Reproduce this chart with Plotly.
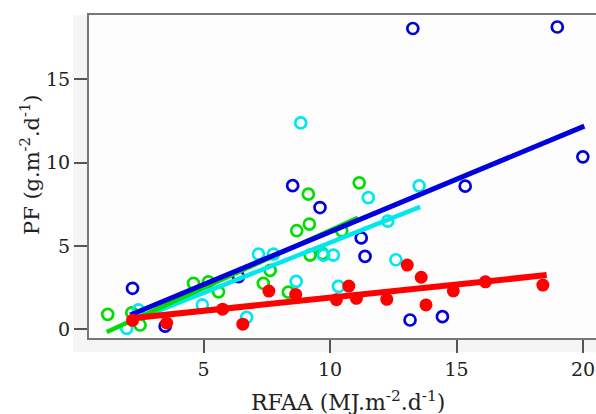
import plotly.graph_objects as go

# ---- data ----
blue_x = [2.19, 3.48, 6.38, 8.52, 9.60, 11.23, 11.38, 13.27, 13.16, 14.44, 15.34, 18.98, 19.99]
blue_y = [2.47, 0.20, 3.16, 8.62, 7.31, 5.49, 4.38, 18.04, 0.57, 0.77, 8.59, 18.13, 10.35]

cyan_x = [1.96, 2.42, 4.95, 6.70, 7.17, 7.76, 8.66, 8.84, 9.74, 10.13, 10.33, 11.51, 12.28, 12.60, 13.52]
cyan_y = [0.07, 1.17, 1.47, 0.73, 4.52, 4.52, 2.88, 12.38, 4.46, 4.46, 2.58, 7.90, 6.50, 4.18, 8.61]

green_x = [1.21, 2.16, 2.49, 4.60, 5.19, 5.59, 7.36, 7.63, 8.35, 8.68, 9.14, 9.18, 9.21, 9.70, 10.46, 11.15]
green_y = [0.91, 1.00, 0.27, 2.77, 2.86, 2.26, 2.77, 3.54, 2.24, 5.92, 8.11, 6.32, 4.46, 4.55, 5.92, 8.79]

red_x = [2.19, 3.54, 5.75, 6.55, 7.58, 8.64, 10.25, 10.74, 11.04, 12.24, 13.05, 13.60, 13.79, 14.87, 16.14, 18.41]
red_y = [0.55, 0.39, 1.22, 0.32, 2.30, 2.10, 1.79, 2.60, 1.87, 1.81, 3.86, 3.13, 1.47, 2.32, 2.86, 2.66]

# regression line end points
blue_fit_x = [2.10, 20.05]
blue_fit_y = [0.87, 12.19]
cyan_fit_x = [2.10, 13.56]
cyan_fit_y = [0.45, 7.35]
green_fit_x = [1.17, 11.10]
green_fit_y = [-0.15, 6.70]
red_fit_x = [2.16, 18.56]
red_fit_y = [0.67, 3.26]

x_ticks = [5, 10, 15, 20]
y_ticks = [0, 5, 10, 15]

BLUE = "#0000dd"
CYAN = "#00e8ee"
GREEN = "#00dd00"
RED = "#ff0000"

fig = go.Figure()

def open_pts(x, y, c):
    fig.add_trace(go.Scatter(x=x, y=y, mode="markers",
                             marker=dict(symbol="circle-open", size=11, color=c,
                                         line=dict(width=2.7, color=c)),
                             showlegend=False, hoverinfo="skip"))

def fit_line(x, y, c, w):
    fig.add_trace(go.Scatter(x=x, y=y, mode="lines", line=dict(color=c, width=w),
                             showlegend=False, hoverinfo="skip"))

open_pts(green_x, green_y, GREEN)
open_pts(cyan_x, cyan_y, CYAN)
open_pts(blue_x, blue_y, BLUE)
fit_line(cyan_fit_x, cyan_fit_y, CYAN, 4.5)
fit_line(green_fit_x, green_fit_y, GREEN, 4.5)
fit_line(blue_fit_x, blue_fit_y, BLUE, 5)
fig.add_trace(go.Scatter(x=red_x, y=red_y, mode="markers",
                         marker=dict(symbol="circle", size=13, color=RED, line=dict(width=0)),
                         showlegend=False, hoverinfo="skip"))
fit_line(red_fit_x, red_fit_y, RED, 6)

font_fam = "DejaVu Serif"
TXT = "#222222"

fig.update_layout(
    width=596, height=414,
    margin=dict(l=89, r=0, t=15, b=76),
    paper_bgcolor="white",
    plot_bgcolor="#fdfdfd",
    font=dict(family=font_fam, color=TXT),
    xaxis=dict(range=[0.47, 20.51], tickvals=x_ticks, ticks="outside", ticklen=13,
               tickwidth=2, tickcolor="#555555", showline=True, linecolor="#777777",
               linewidth=2, mirror=True, showgrid=False, zeroline=False,
               tickfont=dict(size=19, family=font_fam, color=TXT)),
    yaxis=dict(range=[-0.51, 18.85], tickvals=y_ticks, ticks="outside", ticklen=13,
               tickwidth=2, tickcolor="#555555", showline=True, linecolor="#777777",
               linewidth=2, showgrid=False, zeroline=False,
               tickfont=dict(size=19, family=font_fam, color=TXT)),
    shapes=[
        dict(type="rect", xref="paper", yref="paper", x0=-16/507, x1=1.0,
             y0=-14/323, y1=1.0, fillcolor="#f5f5f5", line=dict(width=0), layer="below"),
        dict(type="rect", xref="paper", yref="paper", x0=0, x1=1.0,
             y0=0, y1=1.0, fillcolor="#fdfdfd", line=dict(width=0), layer="below"),
    ],
    annotations=[
        dict(text="RFAA (MJ.m<sup>-2</sup>.d<sup>-1</sup>)", xref="paper", yref="paper",
             x=(348 - 89) / 507, y=(338 - 401) / 323, xanchor="center", yanchor="middle",
             showarrow=False, font=dict(size=22, family=font_fam, color=TXT)),
        dict(text="PF (g.m<sup>-2</sup>.d<sup>-1</sup>)", xref="paper", yref="paper",
             x=(30 - 89) / 507, y=(338 - 165) / 323, xanchor="center", yanchor="middle",
             textangle=-90, showarrow=False,
             font=dict(size=21, family=font_fam, color=TXT)),
    ],
)

fig.write_html(
    "out.html",
    config={"displayModeBar": False},
    post_script="document.body.style.margin='0';"
                "document.documentElement.style.overflow='hidden';"
                "document.body.style.overflow='hidden';",
)
